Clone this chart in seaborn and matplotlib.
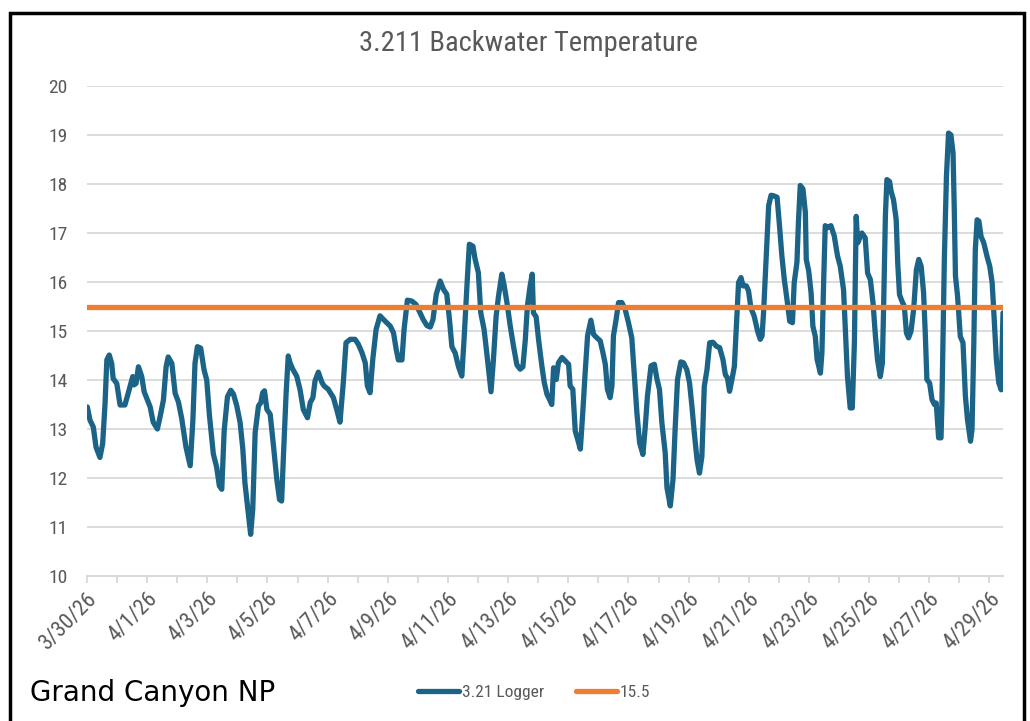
import pandas as pd
import numpy as np
import seaborn as sns
import matplotlib.pyplot as plt
import matplotlib.dates as mdates
from matplotlib import font_manager
from matplotlib.patches import Rectangle

# Leituras do logger: dias decorridos desde 3/30/26 00:00 e temperatura (°C)
dias = [
    0.01, 0.10, 0.21, 0.30, 0.43, 0.52, 0.60, 0.66, 0.74, 0.82, 0.87, 0.99,
    1.10, 1.26, 1.37, 1.52, 1.56, 1.63, 1.71, 1.82, 1.90, 1.99,
    2.10, 2.20, 2.34, 2.43, 2.54, 2.63, 2.70, 2.82, 2.93,
    3.04, 3.15, 3.29, 3.43, 3.52, 3.59, 3.67, 3.78, 3.89, 3.98,
    4.07, 4.20, 4.31, 4.40, 4.48, 4.56, 4.67, 4.78, 4.87, 4.98,
    5.09, 5.18, 5.25, 5.36, 5.44, 5.51, 5.59, 5.70, 5.78, 5.84, 5.90, 5.98,
    6.09, 6.20, 6.31, 6.40, 6.47, 6.53, 6.62, 6.69, 6.75, 6.84, 6.97,
    7.08, 7.19, 7.33, 7.42, 7.51, 7.58, 7.69, 7.81, 7.88,
    8.02, 8.19, 8.30, 8.41, 8.52, 8.61, 8.75, 8.91,
    9.02, 9.14, 9.25, 9.32, 9.41, 9.50, 9.61, 9.74, 9.88,
    10.08, 10.19, 10.28, 10.35, 10.47, 10.54, 10.65, 10.80, 10.94,
    11.07, 11.18, 11.30, 11.41, 11.50, 11.61, 11.74, 11.85, 11.96,
    12.05, 12.13, 12.24, 12.35, 12.46, 12.54, 12.63, 12.71, 12.83, 12.90,
    13.01, 13.09, 13.20, 13.29, 13.43, 13.51, 13.60, 13.68, 13.79, 13.87, 13.96,
    14.07, 14.18, 14.29, 14.40, 14.49, 14.57, 14.64, 14.73, 14.80, 14.84, 14.93,
    15.01, 15.12, 15.20, 15.29, 15.37, 15.45, 15.51, 15.60, 15.67, 15.79, 15.90,
    16.01, 16.06, 16.15, 16.23, 16.31, 16.40, 16.48, 16.56, 16.64, 16.75, 16.84, 16.95,
    17.06, 17.15, 17.23, 17.30, 17.39, 17.45, 17.50, 17.59, 17.67, 17.78, 17.89,
    18.00, 18.11, 18.19, 18.28, 18.37, 18.48, 18.56, 18.63, 18.75, 18.86, 18.95,
    19.03, 19.11, 19.22, 19.28, 19.33, 19.39, 19.48, 19.55, 19.63, 19.74, 19.83, 19.94,
    20.03, 20.11, 20.19, 20.28, 20.36, 20.44, 20.52, 20.61, 20.70, 20.81, 20.92,
    21.03, 21.14, 21.22, 21.29, 21.36, 21.44, 21.52, 21.61, 21.66, 21.74, 21.81, 21.92, 21.99,
    22.07, 22.18, 22.29, 22.38, 22.44, 22.49, 22.58, 22.66, 22.74, 22.82, 22.94,
    23.02, 23.10, 23.18, 23.27, 23.36, 23.45, 23.51, 23.60, 23.65, 23.71, 23.80, 23.88, 23.91, 23.99,
    24.07, 24.13, 24.21, 24.27, 24.38, 24.43, 24.49, 24.54, 24.62, 24.73, 24.84, 24.95,
    25.04, 25.15, 25.21, 25.28, 25.37, 25.44, 25.51, 25.57, 25.62, 25.71, 25.76, 25.87, 25.95,
    26.04, 26.13, 26.21, 26.28, 26.37, 26.44, 26.48, 26.54, 26.59, 26.68, 26.73, 26.81, 26.90, 26.95,
    27.01, 27.09, 27.17, 27.24, 27.31, 27.39, 27.48, 27.57, 27.65, 27.73, 27.81, 27.87, 27.92,
    28.01, 28.09, 28.17, 28.23, 28.31, 28.39, 28.42, 28.50, 28.57, 28.64, 28.72, 28.79, 28.83, 28.87, 28.94,
    29.03, 29.12, 29.20, 29.27, 29.37, 29.42, 29.48, 29.53, 29.59, 29.65, 29.72, 29.81, 29.92,
    30.01, 30.09, 30.14, 30.23, 30.31, 30.39, 30.45,
]
temperaturas = [
    13.45, 13.18, 13.04, 12.63, 12.42, 12.70, 13.52, 14.41, 14.51, 14.34, 14.03, 13.93,
    13.49, 13.49, 13.73, 14.07, 13.90, 13.93, 14.27, 14.07, 13.76, 13.62,
    13.45, 13.14, 13.00, 13.25, 13.59, 14.27, 14.47, 14.34, 13.73,
    13.55, 13.21, 12.63, 12.25, 13.18, 14.34, 14.68, 14.65, 14.21, 14.00,
    13.28, 12.49, 12.22, 11.84, 11.77, 12.97, 13.66, 13.79, 13.71, 13.47,
    13.13, 12.59, 11.90, 11.29, 10.85, 11.36, 12.93, 13.47, 13.54, 13.74, 13.78, 13.40,
    13.30, 12.65, 11.97, 11.56, 11.53, 12.45, 13.74, 14.49, 14.35, 14.22, 14.08,
    13.81, 13.40, 13.23, 13.54, 13.64, 13.98, 14.16, 13.95, 13.88,
    13.81, 13.64, 13.40, 13.14, 13.95, 14.76, 14.83, 14.83,
    14.73, 14.56, 14.35, 13.88, 13.74, 14.42, 15.03, 15.31, 15.22,
    15.10, 14.96, 14.62, 14.41, 14.41, 15.03, 15.63, 15.61, 15.54,
    15.37, 15.23, 15.11, 15.08, 15.23, 15.75, 16.02, 15.85, 15.75,
    15.23, 14.68, 14.55, 14.27, 14.08, 14.89, 15.92, 16.77, 16.73, 16.47,
    16.19, 15.37, 15.03, 14.55, 13.76, 14.41, 15.30, 15.71, 16.16, 15.92, 15.58,
    15.10, 14.68, 14.31, 14.22, 14.27, 14.82, 15.51, 15.92, 16.16, 15.37, 15.29,
    14.83, 14.29, 13.95, 13.71, 13.61, 13.50, 14.25, 14.01, 14.35, 14.46, 14.39,
    14.32, 13.88, 13.81, 12.96, 12.79, 12.59, 13.33, 14.15, 14.90, 15.22, 14.93, 14.86,
    14.80, 14.56, 14.32, 13.81, 13.64, 13.88, 14.90, 15.24, 15.58, 15.58, 15.44,
    15.17, 14.86, 14.15, 13.33, 12.72, 12.48, 13.06, 13.67, 14.29, 14.32, 14.01,
    13.81, 13.13, 12.52, 11.80, 11.63, 11.43, 11.97, 12.99, 14.01, 14.37, 14.35, 14.21,
    13.94, 13.46, 12.91, 12.37, 12.10, 12.44, 13.87, 14.21, 14.76, 14.77, 14.69,
    14.66, 14.42, 14.11, 14.04, 13.77, 14.01, 14.28, 15.37, 15.99, 16.09, 15.92, 15.92, 15.82,
    15.47, 15.30, 15.00, 14.83, 14.90, 15.37, 16.53, 17.56, 17.77, 17.76, 17.73,
    17.15, 16.53, 16.05, 15.64, 15.20, 15.17, 15.99, 16.40, 17.22, 17.97, 17.90, 17.42, 16.46, 16.23,
    15.78, 15.10, 14.89, 14.42, 14.14, 14.55, 16.05, 17.15, 17.11, 17.15, 16.94, 16.53,
    16.32, 15.84, 15.03, 14.07, 13.43, 13.43, 14.76, 17.34, 16.80, 16.93, 17.00, 16.90, 16.18,
    16.05, 15.57, 14.89, 14.41, 14.07, 14.35, 15.44, 17.34, 18.09, 18.05, 17.85, 17.68, 17.27, 16.39,
    15.74, 15.61, 15.50, 14.96, 14.86, 14.99, 15.44, 16.25, 16.46, 16.32, 15.78, 14.89, 14.01,
    13.94, 13.60, 13.50, 13.53, 12.82, 12.82, 13.53, 16.46, 18.16, 19.04, 19.00, 18.63, 17.48, 16.12, 15.71,
    14.89, 14.76, 13.67, 13.19, 12.75, 12.99, 14.76, 16.66, 17.27, 17.24, 16.93, 16.80, 16.52,
    16.32, 15.98, 15.44, 14.41, 13.94, 13.80, 15.37,
]
limite = 15.5

rotulos_x = ['3/30/26', '4/1/26', '4/3/26', '4/5/26', '4/7/26', '4/9/26', '4/11/26', '4/13/26',
             '4/15/26', '4/17/26', '4/19/26', '4/21/26', '4/23/26', '4/25/26', '4/27/26', '4/29/26']
valores_y = [10, 11, 12, 13, 14, 15, 16, 17, 18, 19, 20]

inicio = pd.Timestamp('2026-03-30')
df = pd.DataFrame({'tempo': inicio + pd.to_timedelta(dias, unit='D'),
                   'temp': temperaturas})

# fonte estreita parecida com a do Excel, se existir
nomes = {f.name for f in font_manager.fontManager.ttflist}
estreita = next((n for n in ['Roboto Condensed', 'Liberation Sans Narrow', 'Roboto'] if n in nomes), 'DejaVu Sans')

sns.set_style('white')
plt.rcParams['font.family'] = [estreita, 'DejaVu Sans']

azul = '#1b6487'
laranja = '#ed7d31'
cinza = '#595959'

fig = plt.figure(figsize=(10.3, 7.21), dpi=100)
ax = fig.add_axes([87 / 1030, 1 - 576 / 721, (1003 - 87) / 1030, (576 - 86) / 721])

sns.lineplot(data=df, x='tempo', y='temp', color=azul, linewidth=3.8, ax=ax, label='3.21 Logger')
ax.axhline(limite, color=laranja, linewidth=3.8, label=str(limite), zorder=3)

ax.set_ylim(10, 20)
ax.set_xlim(inicio, df['tempo'].iloc[-1])
ax.set_yticks(valores_y)
ax.set_yticklabels([str(v) for v in valores_y])

dias_maiores = pd.date_range(inicio, periods=len(rotulos_x), freq='2D')
dias_menores = pd.date_range(inicio, periods=2 * len(rotulos_x) - 1, freq='D')
ax.set_xticks(mdates.date2num(dias_maiores))
ax.set_xticklabels(rotulos_x, rotation=45, ha='right', va='top', rotation_mode='anchor')
ax.set_xticks(mdates.date2num(dias_menores), minor=True)

ax.set_xlabel('')
ax.set_ylabel('')
ax.yaxis.grid(True, color='#d9d9d9', linewidth=1.3)
ax.xaxis.grid(False)
for lado in ['left', 'right', 'top']:
    ax.spines[lado].set_visible(False)
ax.spines['bottom'].set_color('#d9d9d9')
ax.spines['bottom'].set_linewidth(1.5)

ax.tick_params(axis='y', length=0, pad=14, labelsize=14, labelcolor=cinza)
ax.tick_params(axis='x', which='both', direction='out', length=5, width=1.3, color='#d9d9d9',
               bottom=True, pad=4, labelsize=16, labelcolor=cinza)

fig.text(0.513, 0.94, '3.211 Backwater Temperature', ha='center', va='center',
         fontsize=20.5, color=cinza)
fig.text(30 / 1030, 1 - 693 / 721, 'Grand Canyon NP', ha='left', va='center',
         fontsize=20, color='black', family=['DejaVu Sans'])

h, l = ax.get_legend_handles_labels()
ax.get_legend().remove()
leg = fig.legend(h, l, loc='center', bbox_to_anchor=(534 / 1030, 1 - 692 / 721), ncol=2,
                 frameon=False, fontsize=12.5, handlelength=2.4, handletextpad=0.15, columnspacing=1.8)
for t in leg.get_texts():
    t.set_color(cinza)

# moldura preta em volta do gráfico
fig.patches.append(Rectangle((10 / 1030, -0.05), (1024 - 10) / 1030, 1.05 - 13 / 721,
                             transform=fig.transFigure, fill=False, edgecolor='black', linewidth=2.5))

fig.savefig('out.png', dpi=100)
